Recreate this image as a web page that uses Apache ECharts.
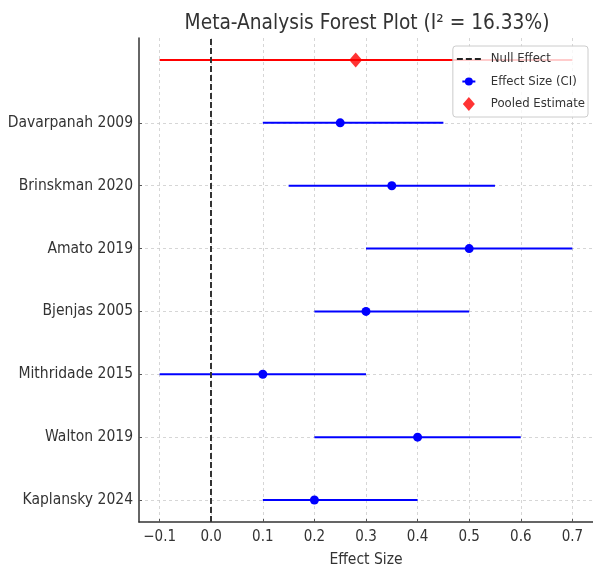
<!DOCTYPE html>
<html>
<head>
<meta charset="utf-8">
<script src="https://cdn.jsdelivr.net/npm/echarts@6/dist/echarts.min.js"></script>
<style>html,body{margin:0;padding:0;background:#fff}#c{width:593px;height:567px}</style>
</head>
<body>
<div id="c"></div>
<script>
// Studies, listed bottom-to-top (row index 0 = bottom)
const studies = ["Kaplansky 2024", "Walton 2019", "Mithridade 2015", "Bjenjas 2005", "Amato 2019", "Brinskman 2020", "Davarpanah 2009"];
const effects = [0.20, 0.40, 0.10, 0.30, 0.50, 0.35, 0.25];
const ciLower = [0.10, 0.20, -0.10, 0.20, 0.30, 0.15, 0.10];
const ciUpper = [0.40, 0.60, 0.30, 0.50, 0.70, 0.55, 0.45];
const pooledEffect = 0.28;
const pooledLower = -0.10;
const pooledUpper = 0.70;
const pooledRow = 7;
const xTicks = [-0.1, 0.0, 0.1, 0.2, 0.3, 0.4, 0.5, 0.6, 0.7];
const yTicks = [0, 1, 2, 3, 4, 5, 6];
const titleText = "Meta-Analysis Forest Plot (I\u00b2 = 16.33%)";

const FONT = "DejaVu Sans Condensed, DejaVu Sans, sans-serif";
const chart = echarts.init(document.getElementById('c'), null, {renderer: 'canvas'});

const ciData = studies.map((s, i) => [ciLower[i], ciUpper[i], i]);
const pooledCI = [[pooledLower, pooledUpper, pooledRow]];
function ciRender(color) {
  return function (params, api) {
    const a = api.coord([api.value(0), api.value(2)]);
    const b = api.coord([api.value(1), api.value(2)]);
    return {type: 'line', shape: {x1: a[0], y1: a[1], x2: b[0], y2: b[1]},
      style: {stroke: color, lineWidth: 2}};
  };
}

// legend icons (24x14 box; leading M points pin the bounding box)
const ICON_NULL = 'path://M0,0 M24,14 M0,6 H6 V8 H0 Z M9,6 H15 V8 H9 Z M18,6 H24 V8 H18 Z';
const ICON_EFFECT = 'path://M0,0 M24,14 M5.5,6 H18.5 V8 H5.5 Z M8,7 A4,4 0 1,1 16,7 A4,4 0 1,1 8,7 Z';
const ICON_POOLED = 'path://M0,0 M24,14 M12,0 L18,7 L12,14 L6,7 Z';

const option = {
  backgroundColor: '#fff',
  animation: false,
  title: {text: titleText, left: 362, top: 8, textAlign: 'center',
    textStyle: {fontFamily: FONT, fontSize: 20.7, fontWeight: 'normal', color: '#333'}},
  grid: {left: 139, right: 0, top: 38, bottom: 45, containLabel: false, outerBoundsMode: 'none'},
  legend: {
    orient: 'vertical', right: 5, top: 46, itemWidth: 24, itemHeight: 14, itemGap: 8.5,
    padding: [6, 3, 6, 4], borderColor: '#ccc', borderWidth: 1, borderRadius: 3,
    backgroundColor: 'rgba(255,255,255,0.8)',
    textStyle: {fontFamily: FONT, fontSize: 13, color: '#333', padding: [0, 0, 0, 5]},
    data: [
      {name: 'Null Effect', icon: ICON_NULL},
      {name: 'Effect Size (CI)', icon: ICON_EFFECT},
      {name: 'Pooled Estimate', icon: ICON_POOLED}
    ]
  },
  xAxis: {
    type: 'value', min: -0.14, max: 0.74,
    name: 'Effect Size', nameLocation: 'middle', nameGap: 30,
    nameTextStyle: {fontFamily: FONT, fontSize: 15.5, color: '#333'},
    axisLine: {show: true, onZero: false, lineStyle: {color: '#333', width: 1.5}},
    axisTick: {show: true, inside: true, length: 3, customValues: xTicks, lineStyle: {color: '#555'}},
    axisLabel: {customValues: xTicks, fontFamily: FONT, fontSize: 15, color: '#333', margin: 8,
      formatter: v => v.toFixed(1).replace('-', '\u2212')},
    splitLine: {show: true, lineStyle: {color: '#ccc', type: [3, 3], width: 0.8}}
  },
  yAxis: {
    type: 'value', min: -0.35, max: 7.35,
    axisLine: {show: true, onZero: false, lineStyle: {color: '#333', width: 1.5}},
    axisTick: {show: true, inside: true, length: 3, customValues: yTicks, lineStyle: {color: '#555'}},
    axisLabel: {customValues: yTicks, fontFamily: FONT, fontSize: 15.5, color: '#333', margin: 6,
      formatter: v => studies[Math.round(v)] || ''},
    splitLine: {show: true, lineStyle: {color: '#ccc', type: [3, 3], width: 0.8}}
  },
  series: [
    {type: 'custom', name: 'ciBars', renderItem: ciRender('#0000ff'), data: ciData,
      encode: {x: [0, 1], y: 2}, z: 3},
    {type: 'custom', name: 'pooledBar', renderItem: ciRender('#ff0000'), data: pooledCI,
      encode: {x: [0, 1], y: 2}, z: 3},
    {type: 'line', name: 'Null Effect', data: [], symbol: 'none', showSymbol: false,
      lineStyle: {color: '#222', width: 2, type: [6, 3]},
      itemStyle: {color: '#222'},
      markLine: {silent: true, symbol: 'none', label: {show: false},
        lineStyle: {color: '#333', width: 2, type: [6, 3]},
        data: [{xAxis: 0}]}, z: 4},
    {type: 'line', name: 'Effect Size (CI)', data: effects.map((e, i) => [e, i]),
      symbol: 'circle', symbolSize: 9, itemStyle: {color: '#0000ff'},
      lineStyle: {width: 0, opacity: 0, color: '#0000ff'}, z: 5},
    {type: 'scatter', name: 'Pooled Estimate', data: [[pooledEffect, pooledRow]],
      symbol: 'diamond', symbolSize: [13, 15], itemStyle: {color: '#ff0000'}, z: 6}
  ]
};
chart.setOption(option);
</script>
</body>
</html>
